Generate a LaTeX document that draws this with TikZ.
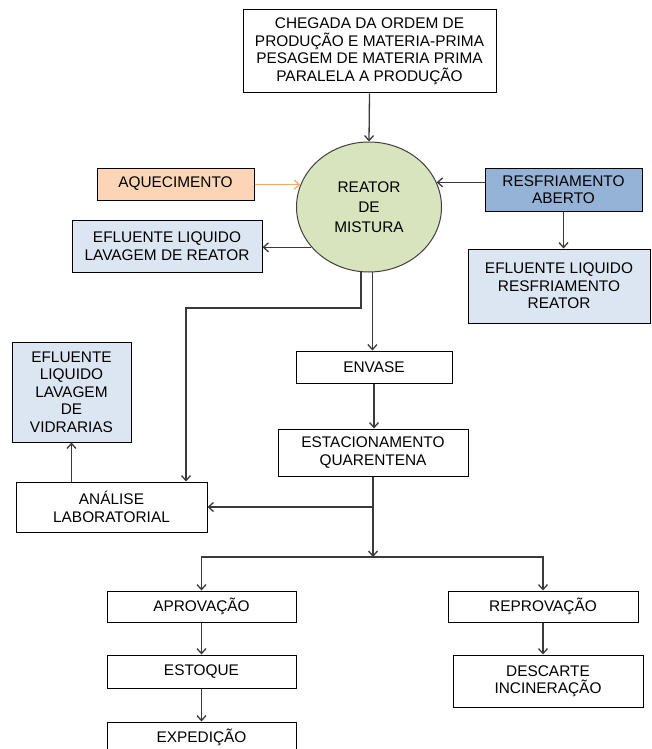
\documentclass[tikz,border=0pt]{standalone}
\usepackage{fontspec}
\setmainfont{Liberation Sans}
\usetikzlibrary{shapes.geometric,arrows.meta}
\definecolor{aquecfill}{HTML}{FBD5B5}
\definecolor{aquecline}{HTML}{F8A868}
\definecolor{resfrfill}{HTML}{95B3D7}
\definecolor{eflfill}{HTML}{DCE6F2}
\definecolor{reatorfill}{HTML}{D7E4BD}
\definecolor{seta}{HTML}{3A3A3A}

\begin{document}
\begin{tikzpicture}[x=1pt,y=-1pt,
  font=\fontsize{15.4}{17.5}\selectfont,
  >={Straight Barb[length=5pt,width=9pt]},
  caixa/.style={draw=black,line width=1pt,align=center,inner sep=0pt},
  flow/.style={->,draw=seta,line width=1.3pt}]
\useasboundingbox (0,0) rectangle (652,749);

\node[caixa, minimum width=253pt, minimum height=83pt] (ordem) at (369.5,51.5)
  {CHEGADA DA ORDEM DE\\PRODUÇÃO E MATERIA-PRIMA\\PESAGEM DE MATERIA PRIMA\\PARALELA A PRODUÇÃO};
\node[ellipse, draw=black!75, line width=1pt, fill=reatorfill, align=center, inner sep=0pt,
  minimum width=145pt, minimum height=130pt] (reator) at (369,207)
  {\raisebox{-3pt}{\parbox{80pt}{\centering REATOR\\[2.5pt]DE\\[2.5pt]MISTURA}}};
\node[caixa, fill=aquecfill, minimum width=157pt, minimum height=32pt] (aquec) at (175.5,184) {AQUECIMENTO};
\node[caixa, fill=resfrfill, minimum width=157pt, minimum height=43pt] (resfr) at (563.5,189.5) {RESFRIAMENTO\\ABERTO};
\node[caixa, fill=eflfill, minimum width=190pt, minimum height=52pt] (eflreator) at (167,246)
  {EFLUENTE LIQUIDO\\LAVAGEM DE REATOR};
\node[caixa, fill=eflfill, minimum width=182pt, minimum height=74pt] (eflresfr) at (559,286)
  {EFLUENTE LIQUIDO\\RESFRIAMENTO\\REATOR};
\node[caixa, fill=eflfill, minimum width=119pt, minimum height=100pt] (eflvidr) at (71.5,392)
  {EFLUENTE\\LIQUIDO\\LAVAGEM\\DE\\VIDRARIAS};
\node[caixa, minimum width=156pt, minimum height=32pt] (envase) at (374,367) {ENVASE};
\node[caixa, minimum width=190pt, minimum height=47pt] (estac) at (373,452.5) {ESTACIONAMENTO\\QUARENTENA};
\node[caixa, minimum width=191pt, minimum height=50pt] (analise) at (111.5,507) {ANÁLISE\\LABORATORIAL};
\node[caixa, minimum width=189pt, minimum height=31pt] (aprov) at (201.5,606.5) {APROVAÇÃO};
\node[caixa, minimum width=189pt, minimum height=33pt] (estoque) at (201.5,671.5) {ESTOQUE};
\node[caixa, minimum width=189pt, minimum height=46pt, text depth=18pt] (exped) at (201.5,745) {EXPEDIÇÃO};
\node[caixa, minimum width=190pt, minimum height=31pt] (reprov) at (543,606.5) {REPROVAÇÃO};
\node[caixa, minimum width=190pt, minimum height=52pt] (descarte) at (548,681) {DESCARTE\\INCINERAÇÃO};

\coordinate (desvio) at (186,308);
\coordinate (split) at (373,557);

\draw[flow] (ordem.south) -- (reator.north);
\draw[flow, draw=aquecline] (aquec.east |- reator.162) -- (reator.162);
\draw[flow] (resfr.west |- reator.20) -- (reator.20);
\draw[flow] (reator.215) -- (reator.215 -| eflreator.east);
\draw[flow] (resfr.south) -- (resfr.south |- eflresfr.north);
\draw[flow] (reator.263) |- (desvio) -- (desvio |- analise.north);
\draw[flow] (reator.273) -- (reator.273 |- envase.north);
\draw[flow] (envase.south) -- (envase.south |- estac.north);
\draw[flow] (estac.south) -- (split);
\draw[flow] (estac.south |- analise.east) -- (analise.east);
\draw[flow] (eflvidr.south |- analise.north) -- (eflvidr.south);
\draw[flow] (split) -| (aprov.north);
\draw[flow] (split) -| (reprov.north);
\draw[flow] (aprov.south) -- (estoque.north);
\draw[flow] (estoque.south) -- (exped.north);
\draw[flow] (reprov.south) -- (reprov.south |- descarte.north);
\end{tikzpicture}
\end{document}
